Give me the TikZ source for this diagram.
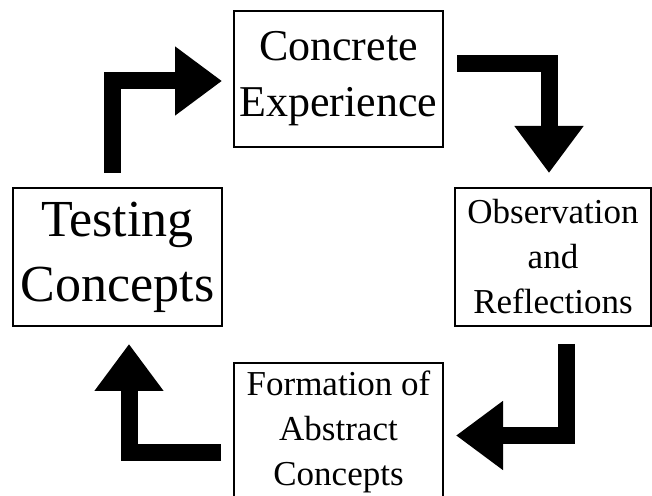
\documentclass[tikz,border=0pt]{standalone}
\usepackage{fontspec}
\setmainfont{Liberation Serif}
\usetikzlibrary{positioning}
\usetikzlibrary{calc}
\usetikzlibrary{arrows.meta}

\begin{document}
\begin{tikzpicture}[x=0.5pt, y=0.5pt,
		stage/.style={draw, line width=1pt, align=center, inner sep=0pt, minimum width=104.5pt, minimum height=69pt},
		bigarrow/.style={line width=8.5pt, -{Triangle[length=23.5pt, width=33pt]}}]
	\useasboundingbox (0,0) rectangle (652,496);
	\clip (0,0) rectangle (652,496);
	\node[stage, minimum height=68pt, font=\fontsize{22}{28}\selectfont](concrete) at (338.5,417){Concrete\\Experience};
	\node[stage, font=\fontsize{26}{32.5}\selectfont](testing) at (117.5,239){Testing\\Concepts};
	\node[stage, minimum width=98pt, font=\fontsize{17.5}{22.5}\selectfont](observation) at (553,239){Observation\\and\\Reflections};
	\node[stage, font=\fontsize{17.5}{22.5}\selectfont](formation) at (338.5,64){Formation of\\Abstract\\Concepts};
	\path[draw, bigarrow] ($(testing.north)+(-5.5,14)$) |- ($(concrete.west)+(-11,-2)$);
	\path[draw, bigarrow] ($(concrete.east)+(13,15.5)$) -| ($(observation.north)+(-4,14)$);
	\path[draw, bigarrow] ($(observation.south)+(13,-17)$) |- ($(formation.east)+(12,-3.5)$);
	\path[draw, bigarrow] ($(formation.west)+(-12,-21)$) -| ($(testing.south)+(11.5,-17)$);
\end{tikzpicture}
\end{document}
